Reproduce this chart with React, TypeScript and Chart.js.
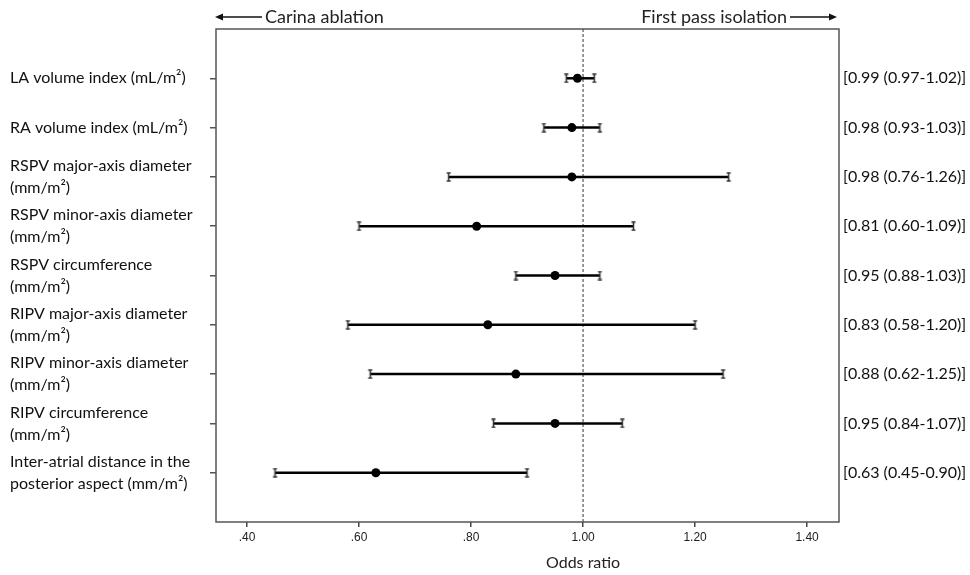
import React, { useEffect, useRef } from "react";
import { Chart, registerables } from "chart.js";
Chart.register(...registerables);

const rowLabels: string[][] = [
  ["LA volume index (mL/m²)"],
  ["RA volume index (mL/m²)"],
  ["RSPV major-axis diameter", "(mm/m²)"],
  ["RSPV minor-axis diameter", "(mm/m²)"],
  ["RSPV circumference", "(mm/m²)"],
  ["RIPV major-axis diameter", "(mm/m²)"],
  ["RIPV minor-axis diameter", "(mm/m²)"],
  ["RIPV circumference", "(mm/m²)"],
  ["Inter-atrial distance in the", "posterior aspect (mm/m²)"],
];
const oddsRatio = [0.99, 0.98, 0.98, 0.81, 0.95, 0.83, 0.88, 0.95, 0.63];
const ciLow = [0.97, 0.93, 0.76, 0.6, 0.88, 0.58, 0.62, 0.84, 0.45];
const ciHigh = [1.02, 1.03, 1.26, 1.09, 1.03, 1.2, 1.25, 1.07, 0.9];
const xTickValues = [0.4, 0.6, 0.8, 1.0, 1.2, 1.4];
const xMin = 0.3446;
const xMax = 1.457;
const refValue = 1.0;
const leftArrowText = "Carina ablation";
const rightArrowText = "First pass isolation";
const xTitle = "Odds ratio";

const LABEL_FONT = "Lato, 'Open Sans', sans-serif";

function makeCap(): HTMLCanvasElement {
  const c = document.createElement("canvas");
  c.width = 7;
  c.height = 10;
  const g = c.getContext("2d")!;
  g.strokeStyle = "#333";
  g.lineWidth = 1.5;
  g.beginPath();
  g.moveTo(3.5, 1);
  g.lineTo(3.5, 9);
  g.moveTo(1.5, 1);
  g.lineTo(5.5, 1);
  g.moveTo(1.5, 9);
  g.lineTo(5.5, 9);
  g.stroke();
  return c;
}

export default function App() {
  const ref = useRef<HTMLCanvasElement>(null);
  useEffect(() => {
    const cap = makeCap();
    const fmt = (v: number) => v.toFixed(2);
    const rightLabels = oddsRatio.map(
      (v, i) => `[${fmt(v)} (${fmt(ciLow[i])}-${fmt(ciHigh[i])})]`
    );

    const overlay = {
      id: "overlay",
      beforeDatasetsDraw(chart: any) {
        const { ctx, chartArea } = chart;
        const x = chart.scales.x.getPixelForValue(refValue);
        ctx.save();
        ctx.strokeStyle = "#333";
        ctx.lineWidth = 1;
        ctx.setLineDash([3, 2]);
        ctx.beginPath();
        ctx.moveTo(x, chartArea.top);
        ctx.lineTo(x, chartArea.bottom);
        ctx.stroke();
        ctx.restore();
      },
      afterDraw(chart: any) {
        const { ctx, chartArea } = chart;
        ctx.save();
        ctx.strokeStyle = "#555";
        ctx.lineWidth = 1.5;
        ctx.strokeRect(
          chartArea.left,
          chartArea.top,
          chartArea.right - chartArea.left,
          chartArea.bottom - chartArea.top
        );
        // title
        ctx.fillStyle = "#222";
        ctx.font = `16px ${LABEL_FONT}`;
        ctx.textAlign = "center";
        ctx.textBaseline = "middle";
        ctx.fillText(xTitle, chart.scales.x.getPixelForValue(refValue), 563);
        // arrows
        const y = 17;
        ctx.font = `18px ${LABEL_FONT}`;
        ctx.textAlign = "left";
        ctx.fillText(leftArrowText, 265, y);
        ctx.textAlign = "right";
        ctx.fillText(rightArrowText, 787, y);
        ctx.strokeStyle = "#111";
        ctx.lineWidth = 1.5;
        ctx.fillStyle = "#111";
        const arrow = (x0: number, x1: number) => {
          const dir = Math.sign(x1 - x0);
          ctx.beginPath();
          ctx.moveTo(x0, y);
          ctx.lineTo(x1 - dir * 6, y);
          ctx.stroke();
          ctx.beginPath();
          ctx.moveTo(x1, y);
          ctx.lineTo(x1 - dir * 8, y - 3.5);
          ctx.lineTo(x1 - dir * 8, y + 3.5);
          ctx.closePath();
          ctx.fill();
        };
        arrow(262, 215);
        arrow(790, 837);
        ctx.restore();
      },
    };

    const datasets: any[] = [
      {
        type: "scatter",
        data: oddsRatio.map((v, i) => ({ x: v, y: i + 1 })),
        pointRadius: 4.5,
        pointBackgroundColor: "#000",
        pointBorderColor: "#000",
        pointBorderWidth: 0,
        showLine: false,
      },
    ];
    oddsRatio.forEach((_, i) => {
      datasets.push({
        type: "line",
        data: [
          { x: ciLow[i], y: i + 1 },
          { x: ciHigh[i], y: i + 1 },
        ],
        borderColor: "#000",
        borderWidth: 2.5,
        pointStyle: cap,
        pointRadius: 5,
        showLine: true,
        fill: false,
      });
    });

    const chart = new Chart(ref.current!, {
      type: "scatter",
      data: { datasets },
      options: {
        animation: false,
        responsive: false,
        events: [],
        layout: { padding: { left: 10, top: 29, right: 0, bottom: 0 } },
        plugins: { legend: { display: false }, tooltip: { enabled: false } },
        scales: {
          x: {
            type: "linear",
            min: xMin,
            max: xMax,
            afterBuildTicks: (axis: any) => {
              axis.ticks = xTickValues.map((v) => ({ value: v }));
            },
            afterFit: (axis: any) => {
              axis.height = 53;
            },
            border: { display: false },
            grid: {
              drawOnChartArea: false,
              drawTicks: true,
              tickLength: 5,
              color: "#444",
              lineWidth: 1.5,
            },
            ticks: {
              padding: 3,
              maxRotation: 0,
              autoSkip: false,
              color: "#222",
              font: { family: "'Liberation Sans', Arial, sans-serif", size: 12 },
              callback: (v: any) => {
                const n = Number(v);
                const s = n.toFixed(2);
                return n < 1 ? s.slice(1) : s;
              },
            },
          },
          y: {
            type: "linear",
            position: "left",
            min: 0,
            max: 10,
            reverse: true,
            afterBuildTicks: (axis: any) => {
              axis.ticks = rowLabels.map((_, i) => ({ value: i + 1 }));
            },
            afterFit: (axis: any) => {
              axis.width = 206;
            },
            border: { display: false },
            grid: {
              drawOnChartArea: false,
              drawTicks: true,
              tickLength: 6,
              color: "#555",
              lineWidth: 1.5,
            },
            ticks: {
              autoSkip: false,
              crossAlign: "far",
              padding: 4,
              color: "#111",
              font: { family: LABEL_FONT, size: 16, lineHeight: 1.37 },
              callback: (v: any) => {
                const idx = Math.round(Number(v)) - 1;
                return rowLabels[idx] ?? "";
              },
            },
          },
          y2: {
            type: "linear",
            position: "right",
            min: 0,
            max: 10,
            reverse: true,
            afterBuildTicks: (axis: any) => {
              axis.ticks = rightLabels.map((_, i) => ({ value: i + 1 }));
            },
            afterFit: (axis: any) => {
              axis.width = 131;
            },
            border: { display: false },
            grid: { display: false, drawTicks: false },
            ticks: {
              autoSkip: false,
              crossAlign: "near",
              padding: 4,
              color: "#111",
              font: { family: LABEL_FONT, size: 16 },
              callback: (v: any) => {
                const idx = Math.round(Number(v)) - 1;
                return rightLabels[idx] ?? "";
              },
            },
          },
        },
      } as any,
      plugins: [overlay],
    });
    return () => chart.destroy();
  }, []);

  return (
    <div style={{ position: "fixed", left: 0, top: 0, width: 970, height: 575, background: "#fff" }}>
      <canvas ref={ref} width={970} height={575} style={{ width: 970, height: 575 }} />
    </div>
  );
}
